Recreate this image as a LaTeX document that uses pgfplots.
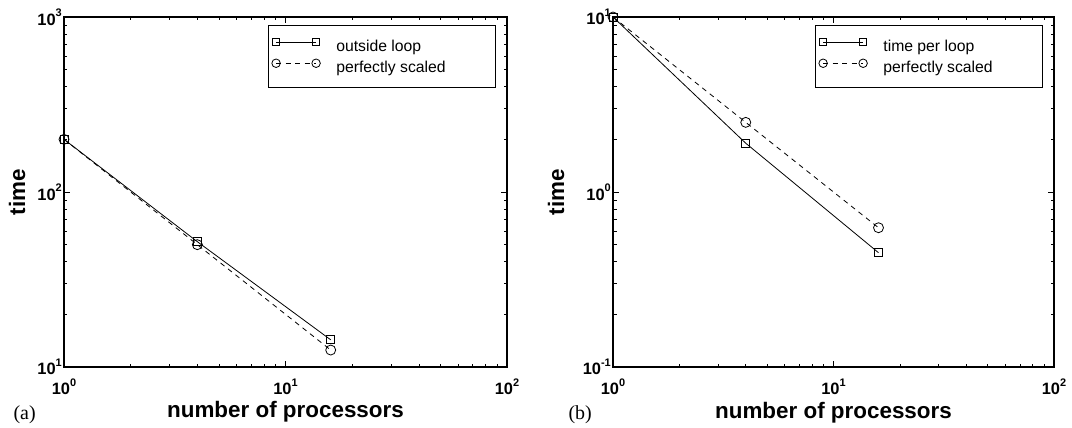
\documentclass[border=0pt]{standalone}
\usepackage{fontspec}
\setmainfont{Liberation Sans}
\newfontfamily\panelfont{Liberation Serif}
\usepackage{pgfplots}
\pgfplotsset{compat=1.18}

% power-of-ten tick label in bold sans
\newcommand\pw[1]{\textbf{10}\raisebox{0.52em}{\fontsize{11}{11}\selectfont\bfseries #1}}

\tikzset{
  sq/.style={black, line width=0.8bp, mark=square, mark size=4bp, mark options={solid}},
  ci/.style={black, line width=0.8bp, dash pattern=on 5bp off 4.5bp, mark=o, mark size=5bp, mark options={solid}},
}

% options shared by both panels
\pgfplotsset{
  scale only axis, height=350bp,
  xmin=1, xmax=100,
  xtick={1,10,100}, xticklabels={\pw{0},\pw{1},\pw{2}},
  axis line style={line width=1.2bp},
  tick style={black, line width=0.6bp},
  tick align=inside,
  major tick length=6bp, minor tick length=3.5bp,
  ticklabel style={font=\fontsize{16.5}{18}\selectfont\bfseries},
  xticklabel style={yshift=-8bp},
  yticklabel style={inner sep=2bp},
  label style={font=\fontsize{22.5}{26}\selectfont\bfseries},
  xlabel style={at={(axis description cs:0.5,-0.1457)}, anchor=base},
  clip=false,
  legend cell align=left,
  legend image code/.code={\draw[#1, mark size=0.85*\pgfplotmarksize] plot coordinates {(0bp,4.5bp) (40bp,4.5bp)};},
  legend style={
    at={(axis description cs:0.975,0.977)}, anchor=north east,
    draw=black, line width=1.2bp,
    inner xsep=3bp, inner ysep=13bp,
    row sep=6bp, column sep=16bp,
    font=\fontsize{15.8}{18}\selectfont,
    nodes={inner sep=0pt},
  },
}

\begin{document}
\begin{tikzpicture}
\useasboundingbox (0,0) rectangle (1072bp,428bp);

% (a) outside loop timing
\begin{loglogaxis}[at={(64bp,61bp)}, anchor=south west, width=443bp,
  ymin=10, ymax=1000, ytick={10,100,1000},
  yticklabels={\pw{1},\pw{2},\pw{3}},
  xlabel={number of processors}, ylabel={time},
  ylabel style={at={(axis description cs:-0.088,0.5)}, anchor=base}]
\addplot[sq] coordinates {(1,200) (4,52) (16,14.3)};
\addlegendentry{\makebox[156bp][l]{outside loop}}
\addplot[ci] coordinates {(1,200) (4,50) (16,12.5)};
\addlegendentry{\makebox[156bp][l]{perfectly scaled}}
\end{loglogaxis}

% (b) time per loop
\begin{loglogaxis}[at={(613bp,61bp)}, anchor=south west, width=441bp,
  ymin=0.1, ymax=10, ytick={0.1,1,10},
  yticklabels={\pw{-1},\pw{0},\pw{1}},
  xlabel={number of processors}, ylabel={time},
  ylabel style={at={(axis description cs:-0.111,0.5)}, anchor=base}]
\addplot[sq] coordinates {(1,10) (4,1.9) (16,0.45)};
\addlegendentry{\makebox[156bp][l]{time per loop}}
\addplot[ci] coordinates {(1,10) (4,2.5) (16,0.625)};
\addlegendentry{\makebox[156bp][l]{perfectly scaled}}
\end{loglogaxis}

\node[anchor=base west, font=\panelfont\fontsize{20}{22}\selectfont] at (10bp,9bp) {(a)};
\node[anchor=base west, font=\panelfont\fontsize{20}{22}\selectfont] at (565bp,9bp) {(b)};
\end{tikzpicture}
\end{document}
